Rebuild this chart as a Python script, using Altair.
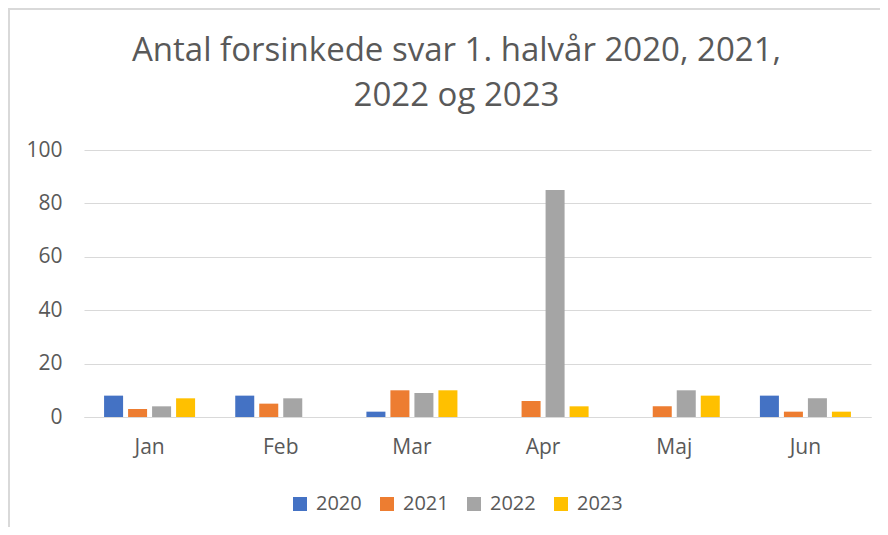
import altair as alt
import pandas as pd

months = ["Jan", "Feb", "Mar", "Apr", "Maj", "Jun"]
years = ["2020", "2021", "2022", "2023"]
v2020 = [8, 8, 2, 0, 0, 8]
v2021 = [3, 5, 10, 6, 4, 2]
v2022 = [4, 7, 9, 85, 10, 7]
v2023 = [7, 0, 10, 4, 8, 2]
colors = ["#4472C4", "#ED7D31", "#A5A5A5", "#FFC000"]

rows = []
for y, vals in zip(years, [v2020, v2021, v2022, v2023]):
    for m, v in zip(months, vals):
        rows.append({"month": m, "year": y, "value": v})
df = pd.DataFrame(rows)

FONT = "Open Sans"
TXT = "#595959"

bars = alt.Chart(df).mark_bar().encode(
    x=alt.X("month:N", sort=months, title=None,
            scale=alt.Scale(paddingInner=0.268, paddingOuter=0.134),
            axis=alt.Axis(labelAngle=0, ticks=False, domain=True, domainColor="#D9D9D9",
                          domainWidth=1, labelFontSize=21, labelColor=TXT, labelFont=FONT,
                          labelPadding=19)),
    xOffset=alt.XOffset("year:N", sort=years,
                        scale=alt.Scale(paddingInner=0.208, paddingOuter=0.104)),
    y=alt.Y("value:Q", title=None,
            scale=alt.Scale(domain=[0, 100], nice=False),
            axis=alt.Axis(values=[0, 20, 40, 60, 80, 100], ticks=False, domain=False,
                          gridColor="#D9D9D9", gridWidth=1, labelFontSize=21,
                          labelColor=TXT, labelFont=FONT, labelPadding=22)),
    color=alt.Color("year:N", sort=years, title=None,
                    scale=alt.Scale(domain=years, range=colors),
                    legend=alt.Legend(orient="none", direction="horizontal", columns=4,
                                      legendX=206, legendY=344, symbolType="square",
                                      symbolSize=196, symbolStrokeWidth=0, labelFontSize=20,
                                      labelColor=TXT, labelFont=FONT, labelOffset=6,
                                      columnPadding=15)),
)

one = pd.DataFrame({"a": [0]})
border = alt.Chart(one).mark_rect(fillOpacity=0, stroke="#D9D9D9", strokeWidth=2).encode(
    x=alt.value(-75), x2=alt.value(840), y=alt.value(-141), y2=alt.value(420))

chart = alt.layer(bars, border).properties(
    width=787, height=267,
    autosize=alt.AutoSizeParams(type="none"),
    padding={"left": 76, "top": 142, "right": 9, "bottom": 110},
    title=alt.TitleParams(
        text=["Antal forsinkede svar 1. halvår 2020, 2021,", "2022 og 2023"],
        fontSize=33, font=FONT, fontWeight="normal", color=TXT, anchor="middle",
        baseline="alphabetic", dx=-21, dy=131, offset=0, lineHeight=45),
).configure_view(stroke=None)

chart.save("out.html", embed_options={"renderer": "svg", "actions": False})
